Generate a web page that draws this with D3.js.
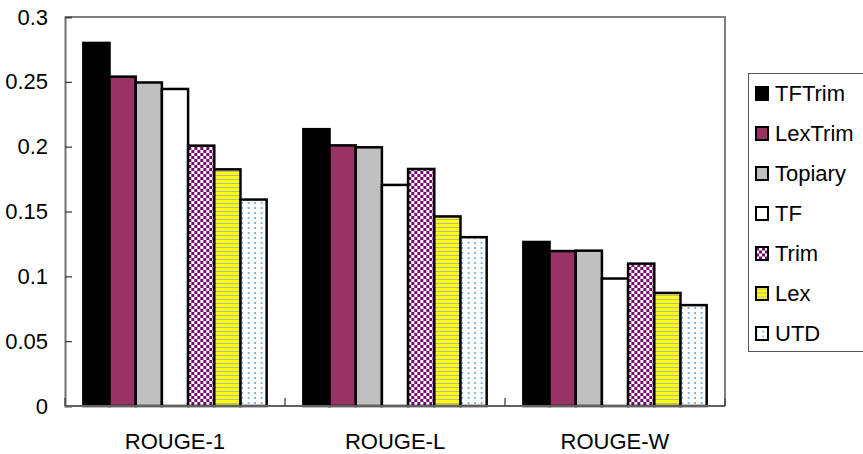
<!DOCTYPE html>
<html>
<head>
<meta charset="utf-8">
<script src="https://cdn.jsdelivr.net/npm/d3@7/dist/d3.min.js"></script>
<style>
  html, body { margin: 0; padding: 0; background: #fff; }
  svg { display: block; font-family: "Liberation Sans", Arial, sans-serif; }
</style>
</head>
<body>
<svg id="chart" width="863" height="454"></svg>
<script>
// ROUGE scores of seven summarisers on three metrics
const categories = ["ROUGE-1", "ROUGE-L", "ROUGE-W"];
const seriesNames = ["TFTrim", "LexTrim", "Topiary", "TF", "Trim", "Lex", "UTD"];
const TFTrim  = [0.280, 0.2135, 0.1265];
const LexTrim = [0.254, 0.201, 0.1195];
const Topiary = [0.2495, 0.1995, 0.1198];
const TF      = [0.2445, 0.1705, 0.0983];
const Trim    = [0.2008, 0.1828, 0.1098];
const Lex     = [0.1825, 0.1462, 0.0872];
const UTD     = [0.1592, 0.1302, 0.0778];
const seriesValues = [TFTrim, LexTrim, Topiary, TF, Trim, Lex, UTD];
const yTicks = [0, 0.05, 0.1, 0.15, 0.2, 0.25, 0.3];
const yTickLabels = ["0", "0.05", "0.1", "0.15", "0.2", "0.25", "0.3"];

const svg = d3.select("#chart");
const plot = { left: 65, right: 725, top: 17, bottom: 406 };

// Fill patterns
const defs = svg.append("defs");

// checkerboard
const chk = defs.append("pattern").attr("id", "pat-trim")
  .attr("patternUnits", "userSpaceOnUse").attr("width", 6).attr("height", 6);
chk.append("rect").attr("width", 6).attr("height", 6).attr("fill", "#fff");
chk.append("rect").attr("width", 3).attr("height", 3).attr("fill", "#760870");
chk.append("rect").attr("x", 3).attr("y", 3).attr("width", 3).attr("height", 3).attr("fill", "#760870");

// yellow with grey horizontal stripes
const str = defs.append("pattern").attr("id", "pat-lex")
  .attr("patternUnits", "userSpaceOnUse").attr("width", 8).attr("height", 4);
str.append("rect").attr("width", 8).attr("height", 4).attr("fill", "#ffff00");
str.append("rect").attr("y", 3).attr("width", 8).attr("height", 1).attr("fill", "#b8b8a8");

// light-blue dotted grid on white
const dot = defs.append("pattern").attr("id", "pat-utd")
  .attr("patternUnits", "userSpaceOnUse").attr("width", 6.5).attr("height", 5);
dot.append("rect").attr("width", 6.5).attr("height", 5).attr("fill", "#fff");
dot.append("rect").attr("x", 2).attr("y", 2).attr("width", 2).attr("height", 1.5).attr("fill", "#7fb2e6");

defs.selectAll("pattern rect").attr("shape-rendering", "crispEdges");

const fills = ["#000000", "#993366", "#c0c0c0", "#ffffff", "url(#pat-trim)", "url(#pat-lex)", "url(#pat-utd)"];

// Scales
const x0 = d3.scaleBand().domain(categories).range([plot.left, plot.right])
  .paddingInner(0.1667).paddingOuter(0.0833);
const x1 = d3.scaleBand().domain(seriesNames).range([0, x0.bandwidth()]);
const y = d3.scaleLinear().domain([0, 0.3]).range([plot.bottom, plot.top]);

// Plot area border (top and right)
svg.append("path")
  .attr("d", `M${plot.left},${plot.top}H${plot.right}V${plot.bottom}`)
  .attr("fill", "none").attr("stroke", "#808080").attr("stroke-width", 2);

// Bars
const groups = svg.append("g").selectAll("g")
  .data(categories).join("g")
  .attr("transform", d => `translate(${x0(d)},0)`);

groups.selectAll("rect")
  .data((c, ci) => seriesNames.map((s, si) => ({ s, si, v: seriesValues[si][ci] })))
  .join("rect")
  .attr("x", d => x1(d.s))
  .attr("y", d => y(d.v))
  .attr("width", x1.bandwidth())
  .attr("height", d => y(0) - y(d.v))
  .attr("fill", d => fills[d.si])
  .attr("stroke", "#000")
  .attr("stroke-width", 2.5);

// Y axis
const yAxis = d3.axisLeft(y).tickValues(yTicks)
  .tickFormat((d, i) => yTickLabels[i]).tickSize(-7).tickPadding(17);
const yg = svg.append("g").attr("transform", `translate(${plot.left},0)`).call(yAxis);
yg.select(".domain").attr("stroke", "#707070").attr("stroke-width", 2);
yg.selectAll(".tick line").attr("stroke", "#404040").attr("stroke-width", 1.3);
yg.selectAll(".tick text").attr("font-size", 22).attr("fill", "#000")
  .attr("font-family", "'Liberation Sans', Arial, sans-serif");

// X axis with category separators
const xb = svg.append("g");
xb.append("line").attr("x1", plot.left).attr("x2", plot.right)
  .attr("y1", plot.bottom).attr("y2", plot.bottom)
  .attr("stroke", "#606060").attr("stroke-width", 2);
const bounds = categories.map(c => x0(c) - x0.step() * x0.paddingOuter()).concat([plot.right]);
xb.selectAll("line.sep").data(bounds).join("line").attr("class", "sep")
  .attr("x1", d => d).attr("x2", d => d)
  .attr("y1", plot.bottom).attr("y2", plot.bottom - 8)
  .attr("stroke", "#404040").attr("stroke-width", 1.3);
xb.selectAll("text").data(categories).join("text")
  .attr("x", d => x0(d) + x0.bandwidth() / 2)
  .attr("y", 441)
  .attr("dy", "0.35em")
  .attr("text-anchor", "middle")
  .attr("font-size", 22)
  .text(d => d);

// Legend
const lg = svg.append("g");
lg.append("rect").attr("x", 748.5).attr("y", 73.5).attr("width", 130).attr("height", 278)
  .attr("fill", "#fff").attr("stroke", "#555").attr("stroke-width", 1);
const items = lg.selectAll("g.item").data(seriesNames).join("g").attr("class", "item")
  .attr("transform", (d, i) => `translate(0,${93.5 + i * 40})`);
items.append("rect").attr("x", 756).attr("y", -6.5).attr("width", 12).attr("height", 13)
  .attr("fill", (d, i) => fills[i]).attr("stroke", "#000").attr("stroke-width", 2);
items.append("text").attr("x", 775).attr("dy", "0.36em").attr("font-size", 22).text(d => d);
</script>
</body>
</html>
